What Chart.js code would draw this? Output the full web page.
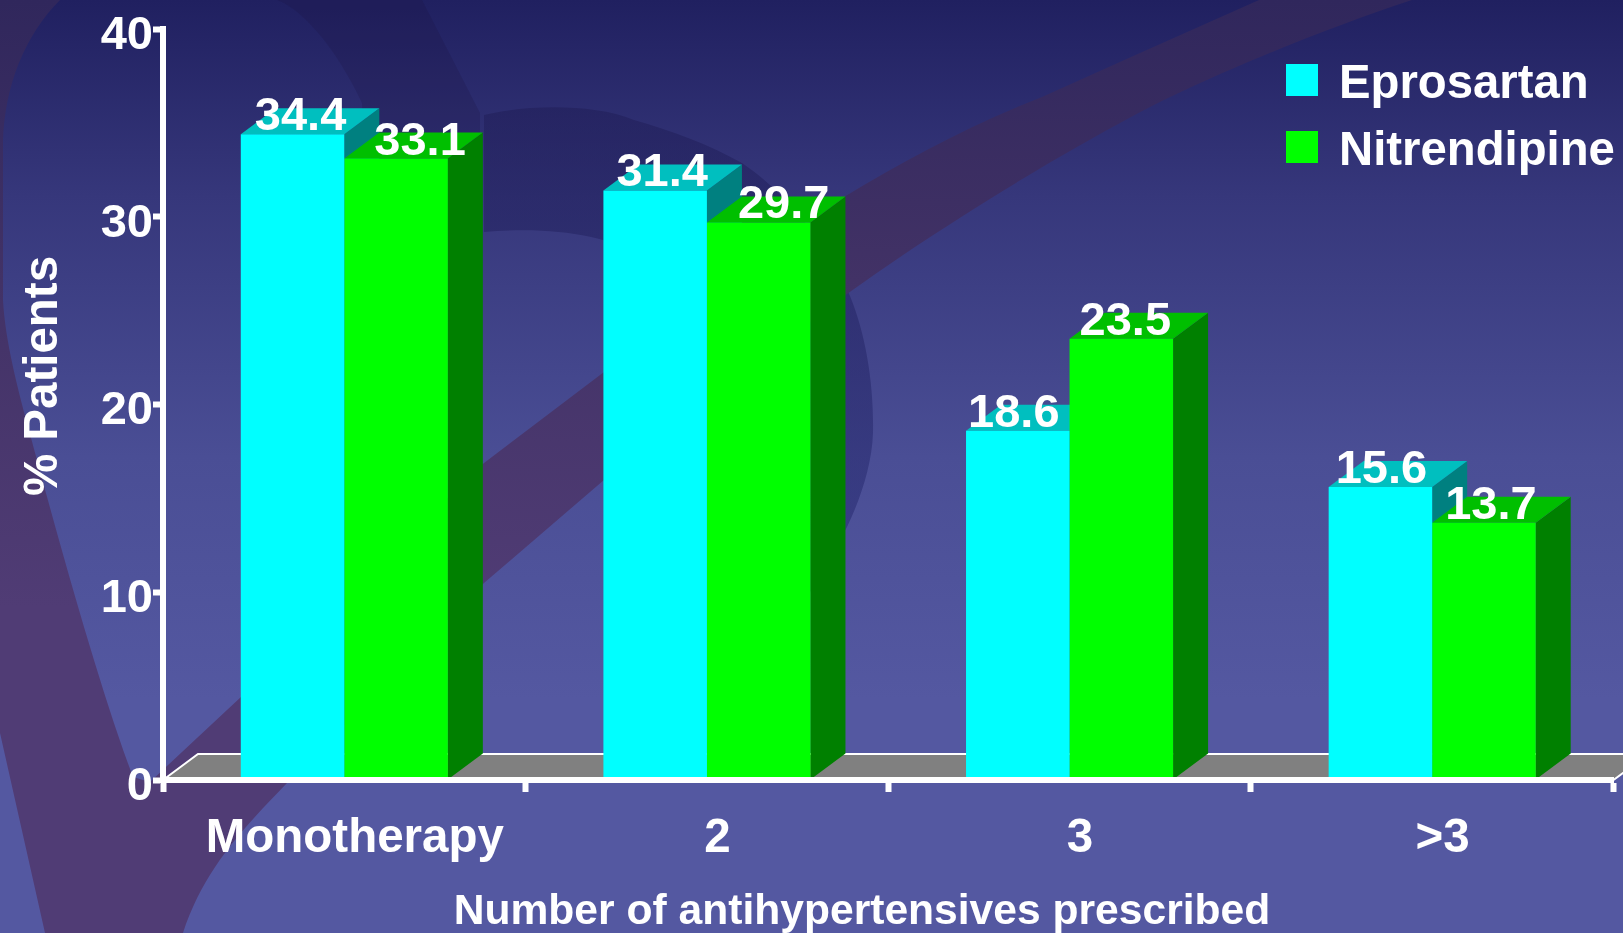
<!DOCTYPE html>
<html>
<head>
<meta charset="utf-8">
<title>Antihypertensives prescribed</title>
<script src="https://cdn.jsdelivr.net/npm/chart.js@4/dist/chart.umd.min.js"></script>
<style>
  html, body { margin: 0; padding: 0; background: #5458a1; overflow: hidden; }
  #wrap { position: relative; width: 1623px; height: 933px; }
  #wrap svg, #wrap canvas { position: absolute; left: 0; top: 0; display: block; }
</style>
</head>
<body>
<div id="wrap">
  <svg width="1623" height="933" viewBox="0 0 1623 933">
    <defs>
      <linearGradient id="bg" gradientUnits="userSpaceOnUse" x1="0" y1="0" x2="0" y2="933">
        <stop offset="0" stop-color="#202060"/>
        <stop offset="0.21" stop-color="#36377b"/>
        <stop offset="0.49" stop-color="#4a4e95"/>
        <stop offset="0.75" stop-color="#5458a1"/>
        <stop offset="1" stop-color="#5458a1"/>
      </linearGradient>
      <linearGradient id="ribbon" gradientUnits="userSpaceOnUse" x1="0" y1="0" x2="0" y2="933">
        <stop offset="0" stop-color="#30275c"/>
        <stop offset="0.3" stop-color="#423266"/>
        <stop offset="0.65" stop-color="#503c75"/>
        <stop offset="1" stop-color="#503c75"/>
      </linearGradient>
      <linearGradient id="arch" gradientUnits="userSpaceOnUse" x1="0" y1="100" x2="0" y2="500">
        <stop offset="0" stop-color="#1f1c55"/>
        <stop offset="1" stop-color="#24276d"/>
      </linearGradient>
    </defs>
    <rect width="1623" height="933" fill="url(#bg)"/>
    <!-- dark band and arch behind the first two groups -->
    <path d="M277,0 C300,8 335,45 362,103 L370,240 L480,240 L480,113 L422,0 Z" fill="#1c1440" fill-opacity="0.22"/>
    <path d="M484,115 C520,106 590,102 634,120 C670,130 710,145 742,163 C790,195 830,250 850,296
             C866,335 874,385 873,433 C872,465 860,500 847,527 L800,610 C805,500 780,400 720,320
             C670,255 600,222 484,232 Z" fill="url(#arch)" fill-opacity="0.5"/>
    <!-- maroon ribbon, from the left edge and sweeping up to the top right -->
    <path d="M0,0 L60,0 C25,35 5,85 3,140 L3,300 C5,340 18,390 30,434 C60,546 100,689 133,777
             L150,782 L167,766 L242,696 L484,463 L604,372 L844,197 C905,160 970,125 1042,97 L1131,57 L1259,0 L1412,0
             C1320,30 1200,80 1131,117 C1060,155 950,220 847,294 L604,480 L484,583 L287,783 C250,822 205,865 183,933
             L45,933 L0,733 Z" fill="url(#ribbon)"/>
  </svg>
  <canvas id="chart" width="1623" height="933"></canvas>
</div>
<script>
const categories = ['Monotherapy', '2', '3', '>3'];
const eprosartan = [34.4, 31.4, 18.6, 15.6];
const nitrendipine = [33.1, 29.7, 23.5, 13.7];
const yTicks = [0, 10, 20, 30, 40];

const FONT = '"Liberation Sans", Arial, sans-serif';
const DEPTH_X = 35;
const DEPTH_Y = 26;

function poly(ctx, color, pts) {
  ctx.fillStyle = color;
  ctx.beginPath();
  pts.forEach((p, i) => (i ? ctx.lineTo(p[0], p[1]) : ctx.moveTo(p[0], p[1])));
  ctx.closePath();
  ctx.fill();
}

// gray floor the bars stand on
const floorPlugin = {
  id: 'floor',
  beforeDatasetsDraw(chart) {
    const { ctx, chartArea: a } = chart;
    const back = a.bottom - DEPTH_Y;
    ctx.save();
    poly(ctx, '#808080', [
      [a.left, a.bottom],
      [a.left + DEPTH_X, back],
      [a.right + DEPTH_X, back],
      [a.right, a.bottom],
    ]);
    ctx.strokeStyle = '#ffffff';
    ctx.lineWidth = 2;
    ctx.beginPath();
    ctx.moveTo(a.left, a.bottom);
    ctx.lineTo(a.left + DEPTH_X, back);
    ctx.lineTo(a.right + DEPTH_X, back);
    ctx.lineTo(a.right, a.bottom);
    ctx.stroke();
    ctx.restore();
  },
};

// side and top faces, left dataset first so the right one overlaps it;
// the library paints the front faces afterwards
const depthPlugin = {
  id: 'depth',
  beforeDatasetsDraw(chart) {
    const { ctx } = chart;
    ctx.save();
    chart.data.datasets.forEach((ds, i) => {
      chart.getDatasetMeta(i).data.forEach(bar => {
        const l = bar.x - bar.width / 2;
        const r = bar.x + bar.width / 2;
        const t = bar.y;
        const b = bar.base;
        poly(ctx, ds.sideColor, [[r, t], [r + DEPTH_X, t - DEPTH_Y], [r + DEPTH_X, b - DEPTH_Y], [r, b]]);
        poly(ctx, ds.topColor, [[l, t], [l + DEPTH_X, t - DEPTH_Y], [r + DEPTH_X, t - DEPTH_Y], [r, t]]);
      });
    });
    ctx.restore();
  },
};

// value labels sit over the top faces, each nudged clear of its neighbour
const labelShift = [[8, 7, -4, 1], [24, 25, 4, 7]];
const valueLabels = {
  id: 'valueLabels',
  afterDatasetsDraw(chart) {
    const { ctx } = chart;
    ctx.save();
    ctx.font = 'bold 47px ' + FONT;
    ctx.fillStyle = '#ffffff';
    ctx.textAlign = 'center';
    ctx.textBaseline = 'alphabetic';
    chart.data.datasets.forEach((ds, i) => {
      chart.getDatasetMeta(i).data.forEach((bar, j) => {
        ctx.fillText(ds.data[j].toFixed(1), bar.x + labelShift[i][j], bar.y - 4);
      });
    });
    ctx.restore();
  },
};

const axisTitles = {
  id: 'axisTitles',
  afterDraw(chart) {
    const { ctx } = chart;
    ctx.save();
    ctx.fillStyle = '#ffffff';
    ctx.textAlign = 'center';
    ctx.textBaseline = 'alphabetic';
    ctx.font = 'bold 42.6px ' + FONT;
    ctx.fillText('Number of antihypertensives prescribed', 862, 924);
    ctx.font = 'bold 47.5px ' + FONT;
    ctx.translate(57, 376);
    ctx.rotate(-Math.PI / 2);
    ctx.fillText('% Patients', 0, 0);
    ctx.restore();
  },
};

// legend inside the plot, top right; text sits a little low against the swatch
const seriesKey = {
  id: 'seriesKey',
  afterDraw(chart) {
    const { ctx } = chart;
    ctx.save();
    ctx.font = 'bold 47.3px ' + FONT;
    ctx.textAlign = 'left';
    ctx.textBaseline = 'alphabetic';
    chart.data.datasets.forEach((ds, i) => {
      const y = 64 + i * 67;
      ctx.fillStyle = ds.backgroundColor;
      ctx.fillRect(1286, y, 32, 32);
      ctx.fillStyle = '#ffffff';
      ctx.fillText(ds.label, 1339, y + 34);
    });
    ctx.restore();
  },
};

new Chart(document.getElementById('chart'), {
  type: 'bar',
  data: {
    labels: categories,
    datasets: [
      {
        label: 'Eprosartan',
        data: eprosartan,
        backgroundColor: '#00ffff',
        topColor: '#00bfbf',
        sideColor: '#008080',
      },
      {
        label: 'Nitrendipine',
        data: nitrendipine,
        backgroundColor: '#00ff00',
        topColor: '#00bf00',
        sideColor: '#008000',
      },
    ],
  },
  plugins: [floorPlugin, depthPlugin, valueLabels, axisTitles, seriesKey],
  options: {
    responsive: false,
    animation: false,
    layout: { padding: { top: 29, right: 9.5, left: 0, bottom: 0 } },
    categoryPercentage: 0.571,
    barPercentage: 1,
    plugins: {
      tooltip: { enabled: false },
      legend: { display: false },
    },
    scales: {
      x: {
        afterFit(scale) { scale.height = 153; },
        border: { color: '#ffffff', width: 6, z: 1 },
        grid: { drawOnChartArea: false, color: '#ffffff', tickColor: '#ffffff', tickWidth: 6, tickLength: 12 },
        ticks: {
          color: '#ffffff',
          font: { family: FONT, size: 47.5, weight: 'bold' },
          padding: 18,
          labelOffset: 10.5,
          autoSkip: false,
          maxRotation: 0,
        },
      },
      y: {
        min: yTicks[0],
        max: yTicks[yTicks.length - 1],
        afterFit(scale) { scale.width = 163; },
        border: { color: '#ffffff', width: 6, z: 1 },
        grid: { drawOnChartArea: false, color: '#ffffff', tickColor: '#ffffff', tickWidth: 6, tickLength: 10 },
        ticks: {
          color: '#ffffff',
          font: { family: FONT, size: 47, weight: 'bold' },
          padding: 0,
          labelOffset: 7,
          stepSize: 10,
        },
      },
    },
  },
});
</script>
</body>
</html>
